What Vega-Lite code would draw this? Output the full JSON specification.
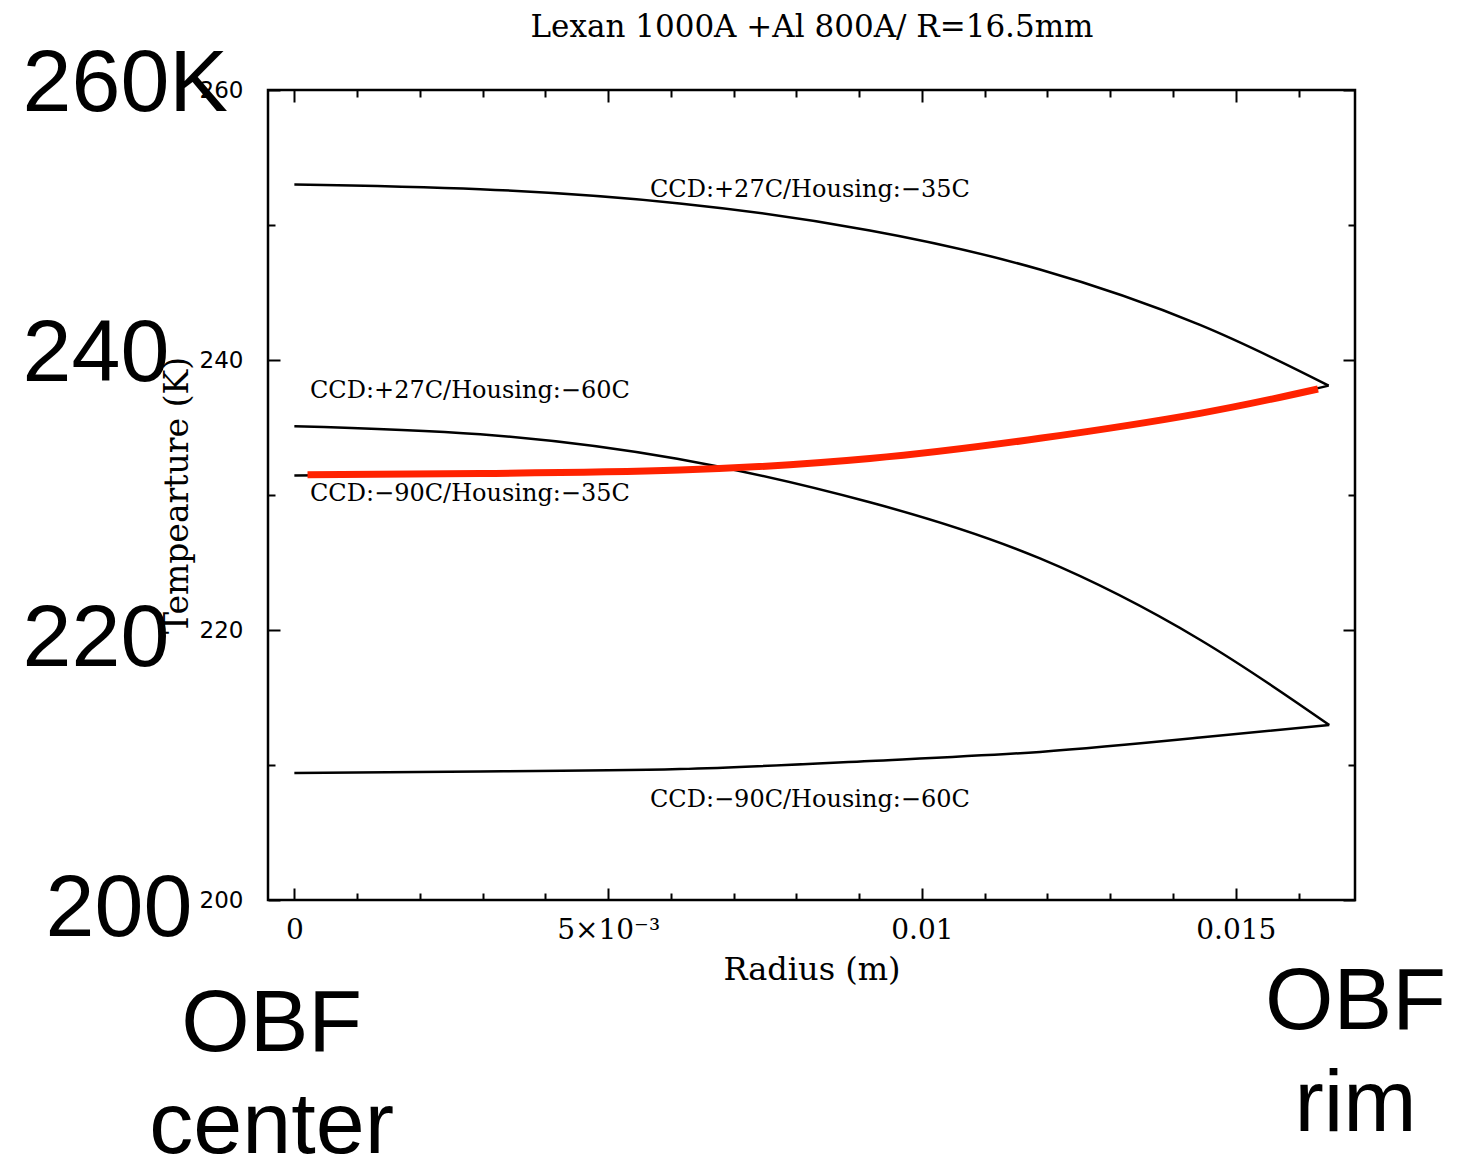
{
  "$schema": "https://vega.github.io/schema/vega-lite/v6.json",
  "autosize": {"type": "none"},
  "width": 1087,
  "height": 810,
  "padding": {"left": 268, "top": 90, "right": 118, "bottom": 262},
  "background": "white",
  "datasets": {
    "curves": [
      {"series": "CCD:+27C/Housing:-35C", "r": 0, "T": 253.0},
      {"series": "CCD:+27C/Housing:-35C", "r": 0.00296, "T": 252.65},
      {"series": "CCD:+27C/Housing:-35C", "r": 0.00614, "T": 251.6},
      {"series": "CCD:+27C/Housing:-35C", "r": 0.00917, "T": 249.6},
      {"series": "CCD:+27C/Housing:-35C", "r": 0.01188, "T": 246.7},
      {"series": "CCD:+27C/Housing:-35C", "r": 0.01443, "T": 242.6},
      {"series": "CCD:+27C/Housing:-35C", "r": 0.01648, "T": 238.1},
      {"series": "CCD:+27C/Housing:-60C", "r": 0, "T": 235.1},
      {"series": "CCD:+27C/Housing:-60C", "r": 0.00296, "T": 234.5},
      {"series": "CCD:+27C/Housing:-60C", "r": 0.0061, "T": 232.68},
      {"series": "CCD:+27C/Housing:-60C", "r": 0.00917, "T": 229.46},
      {"series": "CCD:+27C/Housing:-60C", "r": 0.01188, "T": 225.3},
      {"series": "CCD:+27C/Housing:-60C", "r": 0.01443, "T": 219.28},
      {"series": "CCD:+27C/Housing:-60C", "r": 0.01649, "T": 212.96},
      {"series": "CCD:-90C/Housing:-35C", "r": 0, "T": 231.45},
      {"series": "CCD:-90C/Housing:-35C", "r": 0.00296, "T": 231.55},
      {"series": "CCD:-90C/Housing:-35C", "r": 0.00614, "T": 231.8},
      {"series": "CCD:-90C/Housing:-35C", "r": 0.00917, "T": 232.65},
      {"series": "CCD:-90C/Housing:-35C", "r": 0.01188, "T": 234.15},
      {"series": "CCD:-90C/Housing:-35C", "r": 0.01443, "T": 236.0},
      {"series": "CCD:-90C/Housing:-35C", "r": 0.01648, "T": 238.1},
      {"series": "CCD:-90C/Housing:-60C", "r": 0, "T": 209.4},
      {"series": "CCD:-90C/Housing:-60C", "r": 0.00296, "T": 209.52},
      {"series": "CCD:-90C/Housing:-60C", "r": 0.00614, "T": 209.7},
      {"series": "CCD:-90C/Housing:-60C", "r": 0.00917, "T": 210.3},
      {"series": "CCD:-90C/Housing:-60C", "r": 0.01188, "T": 210.97},
      {"series": "CCD:-90C/Housing:-60C", "r": 0.01443, "T": 212.03},
      {"series": "CCD:-90C/Housing:-60C", "r": 0.01649, "T": 212.96}
    ],
    "red": [
      {"r": 0.00021, "T": 231.5},
      {"r": 0.00296, "T": 231.6},
      {"r": 0.00614, "T": 231.85},
      {"r": 0.00917, "T": 232.7},
      {"r": 0.01188, "T": 234.2},
      {"r": 0.01443, "T": 236.05},
      {"r": 0.01631, "T": 237.85}
    ],
    "notes": [
      {"label": "CCD:+27C/Housing:−35C", "r": 0.005666, "T": 252.59},
      {"label": "CCD:+27C/Housing:−60C", "r": 0.000249, "T": 237.7},
      {"label": "CCD:−90C/Housing:−35C", "r": 0.000249, "T": 230.07},
      {"label": "CCD:−90C/Housing:−60C", "r": 0.005666, "T": 207.41}
    ]
  },
  "layer": [
    {
      "data": {"name": "curves"},
      "mark": {"type": "point", "fillOpacity": 0, "strokeOpacity": 0},
      "encoding": {
        "x": {
          "field": "r", "type": "quantitative",
          "scale": {"domain": [-0.00042, 0.0169], "nice": false, "zero": false},
          "axis": {"orient": "top", "values": [0.001, 0.002, 0.003, 0.004, 0.006, 0.007, 0.008, 0.009, 0.011, 0.012, 0.013, 0.014, 0.016], "tickSize": -7, "tickWidth": 2, "labels": false, "title": null, "domain": false, "grid": false}
        },
        "y": {
          "field": "T", "type": "quantitative",
          "scale": {"domain": [200, 260], "nice": false, "zero": false},
          "axis": {"orient": "right", "values": [210, 230, 250], "tickSize": -7, "tickWidth": 2, "labels": false, "title": null, "domain": false, "grid": false}
        }
      }
    },
    {
      "data": {"name": "curves"},
      "mark": {"type": "point", "fillOpacity": 0, "strokeOpacity": 0},
      "encoding": {
        "x": {
          "field": "r", "type": "quantitative",
          "scale": {"domain": [-0.00042, 0.0169], "nice": false, "zero": false},
          "axis": {
            "orient": "bottom", "values": [-0.00037, 0.0169], "ticks": false,
            "labelExpr": "datum.value < 0.005 ? ['OBF', 'center'] : ['OBF', 'rim']",
            "labelFont": "Liberation Sans", "labelFontSize": 88, "labelLineHeight": 102,
            "labelAlign": "center", "labelBaseline": "top", "labelLimit": 0,
            "labelPadding": {"condition": {"test": "datum.value < 0.005", "value": 80}, "value": 58.5},
            "labelFlush": false, "labelOverlap": false, "labelBound": false,
            "title": null, "domain": false, "grid": false
          }
        },
        "y": {
          "field": "T", "type": "quantitative",
          "scale": {"domain": [200, 260], "nice": false, "zero": false},
          "axis": {
            "orient": "left", "values": [200, 220, 240, 260], "ticks": false,
            "labelExpr": "datum.value == 260 ? '260K' : datum.value == 240 ? '240' : datum.value == 220 ? '220' : '200'",
            "labelFont": "Liberation Sans", "labelFontSize": 88, "labelLimit": 0,
            "labelAlign": "left", "labelBaseline": "middle",
            "labelPadding": {"condition": {"test": "datum.value == 200", "value": 223}, "value": 246},
            "labelOffset": {"condition": {"test": "datum.value <= 220", "value": 9}, "value": -6},
            "labelFlush": false, "labelOverlap": false,
            "title": null, "domain": false, "grid": false
          }
        }
      }
    },
    {
      "data": {"name": "curves"},
      "mark": {"type": "line", "color": "#000", "strokeWidth": 2.5, "interpolate": "natural"},
      "encoding": {
        "detail": {"field": "series"},
        "x": {
          "field": "r", "type": "quantitative",
          "scale": {"domain": [-0.00042, 0.0169], "nice": false, "zero": false},
          "axis": {
            "orient": "bottom", "values": [0, 0.005, 0.01, 0.015], "format": "~g",
            "labelExpr": "datum.value == 0.005 ? '5×10⁻³' : datum.label",
            "tickSize": -12, "tickWidth": 2, "labelPadding": 28,
            "labelFont": "DejaVu Serif", "labelFontSize": 28,
            "labelFlush": false, "labelOverlap": false,
            "title": "Radius (m)", "titleFont": "DejaVu Serif", "titleFontSize": 32, "titleFontWeight": "normal", "titlePadding": 10,
            "domain": false, "grid": false
          }
        },
        "y": {
          "field": "T", "type": "quantitative",
          "scale": {"domain": [200, 260], "nice": false, "zero": false},
          "axis": {
            "orient": "left", "values": [200, 220, 240, 260],
            "tickSize": -12, "tickWidth": 2, "labelPadding": 37,
            "labelFont": "DejaVu Sans", "labelFontSize": 23,
            "labelFlush": false, "labelOverlap": false,
            "title": "Tempearture (K)", "titleFont": "DejaVu Serif", "titleFontSize": 33, "titleFontWeight": "normal", "titlePadding": 5,
            "domain": false, "grid": false
          }
        }
      }
    },
    {
      "data": {"name": "red"},
      "mark": {"type": "line", "color": "#ff2200", "strokeWidth": 7, "interpolate": "natural", "strokeCap": "butt"},
      "encoding": {
        "x": {
          "field": "r", "type": "quantitative",
          "scale": {"domain": [-0.00042, 0.0169], "nice": false, "zero": false},
          "axis": {"orient": "bottom", "values": [0.001, 0.002, 0.003, 0.004, 0.006, 0.007, 0.008, 0.009, 0.011, 0.012, 0.013, 0.014, 0.016], "tickSize": -7, "tickWidth": 2, "labels": false, "title": null, "domain": false, "grid": false}
        },
        "y": {
          "field": "T", "type": "quantitative",
          "scale": {"domain": [200, 260], "nice": false, "zero": false},
          "axis": {"orient": "left", "values": [210, 230, 250], "tickSize": -7, "tickWidth": 2, "labels": false, "title": null, "domain": false, "grid": false}
        }
      }
    },
    {
      "data": {"name": "notes"},
      "mark": {"type": "text", "font": "DejaVu Serif", "fontSize": 24, "align": "left", "baseline": "middle", "color": "#000"},
      "encoding": {
        "text": {"field": "label"},
        "x": {
          "field": "r", "type": "quantitative",
          "scale": {"domain": [-0.00042, 0.0169], "nice": false, "zero": false},
          "axis": {
            "orient": "top", "values": [0, 0.005, 0.01, 0.015], "tickSize": -12, "tickWidth": 2, "labels": false,
            "title": "Lexan 1000A +Al 800A/ R=16.5mm", "titleFont": "DejaVu Serif", "titleFontSize": 31, "titleFontWeight": "normal", "titlePadding": 46,
            "domain": false, "grid": false
          }
        },
        "y": {
          "field": "T", "type": "quantitative",
          "scale": {"domain": [200, 260], "nice": false, "zero": false},
          "axis": {"orient": "right", "values": [200, 220, 240, 260], "tickSize": -12, "tickWidth": 2, "labels": false, "title": null, "domain": false, "grid": false}
        }
      }
    }
  ],
  "resolve": {"axis": {"x": "independent", "y": "independent"}},
  "config": {
    "view": {"stroke": "#000", "strokeWidth": 2.5},
    "axis": {"grid": false, "domain": false, "tickColor": "#000", "labelColor": "#000", "titleColor": "#000", "tickWidth": 2}
  }
}
